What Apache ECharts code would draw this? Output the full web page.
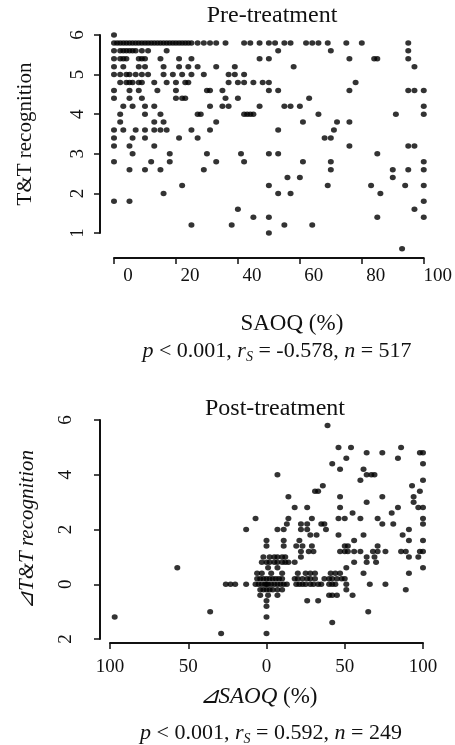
<!DOCTYPE html>
<html>
<head>
<meta charset="utf-8">
<script src="https://cdn.jsdelivr.net/npm/echarts@6/dist/echarts.min.js"></script>
<style>
  html, body { margin: 0; padding: 0; background: #fff; }
  #chart { width: 455px; height: 745px; }
</style>
</head>
<body>
<div id="chart"></div>
<script>
// Pre-treatment: T&T recognition rows and SAOQ (%) values on each row
const preRows = [6, 5.8, 5.6, 5.4, 5.2, 5.0, 4.8, 4.6, 4.4, 4.2, 4.0, 3.8, 3.6, 3.4, 3.2, 3.0, 2.8, 2.6, 2.4, 2.2, 2.0, 1.8, 1.6, 1.4, 1.2, 1.0, 0.6];
const preSAOQ = [
    [0],
    [0, 1, 2, 3, 4, 5, 6, 7, 8, 9, 10, 11, 12, 13, 14, 15, 16, 17, 18, 19, 20, 21, 22, 23, 24, 25, 27, 29, 31, 33, 36, 42, 44, 47, 50, 52, 55, 57, 62, 64, 66, 69, 75, 80, 95],
    [0, 2, 3, 4, 5, 6, 7, 9, 11, 17, 53, 70, 95],
    [0, 2, 3, 4, 8, 9, 10, 15, 21, 25, 47, 50, 76, 84, 85, 95],
    [0, 3, 8, 10, 16, 21, 24, 27, 33, 39, 58, 97],
    [0, 2, 4, 5, 7, 9, 11, 16, 19, 22, 25, 29, 37, 39, 42],
    [2, 4, 5, 6, 8, 9, 13, 17, 20, 23, 24, 37, 40, 42, 45, 48, 50, 78],
    [0, 5, 8, 14, 20, 30, 31, 35, 50, 53, 76, 95, 97, 100],
    [0, 5, 9, 20, 22, 23, 36, 40, 63],
    [3, 6, 10, 13, 31, 35, 37, 47, 55, 57, 60, 100],
    [2, 10, 15, 27, 28, 42, 43, 44, 45, 66, 91, 100],
    [2, 13, 16, 33, 61, 72, 76],
    [0, 3, 7, 10, 13, 15, 17, 25, 31, 53, 71],
    [0, 6, 10, 21, 27, 68, 70],
    [0, 5, 13, 76, 95, 97],
    [6, 18, 30, 41, 50, 53, 85],
    [0, 12, 18, 33, 42, 61, 70, 100],
    [5, 10, 15, 29, 70, 90, 95, 100],
    [56, 60, 90],
    [22, 50, 69, 83, 94, 100],
    [16, 53, 57, 86],
    [0, 5, 100],
    [40, 97],
    [45, 50, 85, 100],
    [25, 38, 55, 64],
    [50],
    [93]
];

// Post-treatment: change in T&T recognition rows and change in SAOQ (%) on each row
const postRows = [5.8, 5.0, 4.8, 4.6, 4.4, 4.2, 4.0, 3.8, 3.6, 3.4, 3.2, 3.0, 2.8, 2.6, 2.4, 2.2, 2.0, 1.8, 1.6, 1.4, 1.2, 1.0, 0.8, 0.6, 0.4, 0.2, 0, -0.2, -0.4, -0.6, -0.8, -1.0, -1.2, -1.4, -1.8];
const postSAOQ = [
    [39],
    [46, 54, 86],
    [64, 74, 98, 100],
    [51, 84],
    [42, 100],
    [47, 62],
    [7, 64, 67, 69],
    [60, 100],
    [36, 93],
    [31, 33, 98],
    [14, 47, 74, 94],
    [64, 94],
    [18, 26, 47, 84, 97, 100],
    [55, 80],
    [-7, 14, 29, 46, 50, 60, 71, 100],
    [13, 22, 26, 35, 37, 74, 81, 100],
    [-13, 7, 11, 22, 26, 38, 91],
    [28, 32, 46, 62, 87],
    [0, 11, 21, 56, 91, 100],
    [0, 11, 19, 23, 29, 50, 52, 71],
    [22, 27, 30, 47, 50, 52, 56, 60, 68, 71, 76, 86, 89, 98, 100],
    [-2, 2, 5, 7, 10, 12, 22, 64, 69, 91, 97],
    [-3, 0, 2, 5, 7, 10, 12, 14, 18, 56, 64, 70],
    [-57, 1, 7, 51, 100],
    [-6, -3, 3, 10, 20, 25, 28, 31, 41, 44, 47, 62, 91],
    [-6, -4, -2, 0, 2, 4, 6, 8, 10, 18, 20, 23, 26, 28, 31, 37, 40, 42, 45, 48, 50],
    [-26, -23, -20, -13, -7, -5, -3, -1, 0, 1, 3, 5, 7, 9, 11, 13, 19, 21, 23, 25, 28, 30, 33, 35, 40, 42, 44, 51, 66, 76],
    [-4, -2, 0, 2, 4, 7, 10, 51, 89],
    [-4, 1, 7, 40, 42, 45, 55],
    [0, 26, 33],
    [0],
    [-36, 65],
    [-97, 0],
    [42],
    [-29, 0]
];

const preTicksX = [0, 100, 20];
const preTicksY = [1, 6, 1];
const postTicksX = [-100, 100, 50];
const postTicksY = [-2, 6, 2];

const toPoints = (rows, xs) => rows.flatMap((y, i) => xs[i].map(x => [x, y]));

const FONT = '"Liberation Serif", "DejaVu Serif", serif';
const INK = '#111';

const axisBase = {
    splitLine: { show: false },
    axisLine: { onZero: false, lineStyle: { color: INK, width: 2 } },
    axisTick: { length: 6, lineStyle: { color: INK, width: 1.5 } },
    axisLabel: { color: INK, fontFamily: FONT, fontSize: 19 },
    nameTextStyle: { color: INK, fontFamily: FONT }
};

const statsRich = {
    i: { fontStyle: 'italic', fontFamily: FONT, fontSize: 22, color: INK },
    sub: { fontStyle: 'italic', fontFamily: FONT, fontSize: 14, color: INK, padding: [11, 0, 0, 0] }
};

const chart = echarts.init(document.getElementById('chart'));
chart.setOption({
    animation: false,
    backgroundColor: '#fff',
    title: [
        { text: 'Pre-treatment', left: 267, top: -1, textAlign: 'center',
          textStyle: { fontFamily: FONT, fontSize: 24, fontWeight: 'normal', color: INK } },
        { text: 'Post-treatment', left: 270, top: 392, textAlign: 'center',
          textStyle: { fontFamily: FONT, fontSize: 24, fontWeight: 'normal', color: INK } },
        { text: '{i|p} < 0.001, {i|r}{sub|S} = -0.578, {i|n} = 517', left: 272, top: 334, textAlign: 'center',
          textStyle: { fontFamily: FONT, fontSize: 22, fontWeight: 'normal', color: INK, rich: statsRich } },
        { text: '{i|p} < 0.001, {i|r}{sub|S} = 0.592, {i|n} = 249', left: 266, top: 716, textAlign: 'center',
          textStyle: { fontFamily: FONT, fontSize: 22, fontWeight: 'normal', color: INK, rich: statsRich } }
    ],
    grid: [
        { left: 114, right: 29, top: 35, bottom: 512 },
        { left: 110, right: 32, top: 420, bottom: 106 }
    ],
    xAxis: [
        { ...axisBase, type: 'value', gridIndex: 0, offset: 25,
          min: preTicksX[0], max: preTicksX[1], interval: preTicksX[2],
          name: 'SAOQ (%)', nameLocation: 'middle', nameGap: 54,
          nameTextStyle: { ...axisBase.nameTextStyle, fontSize: 23, padding: [0, 0, 0, 46] },
          axisLabel: { ...axisBase.axisLabel, margin: 9, padding: [0, 0, 0, 28] } },
        { ...axisBase, type: 'value', gridIndex: 1, offset: 4,
          min: postTicksX[0], max: postTicksX[1], interval: postTicksX[2],
          name: '{i|⊿SAOQ} (%)', nameLocation: 'middle', nameGap: 42,
          nameTextStyle: { ...axisBase.nameTextStyle, fontSize: 23, padding: [0, 16, 0, 0],
              rich: { i: { fontStyle: 'italic', fontFamily: FONT, fontSize: 23, color: INK } } },
          axisLabel: { ...axisBase.axisLabel, margin: 15, formatter: v => String(Math.abs(v)) } }
    ],
    yAxis: [
        { ...axisBase, type: 'value', gridIndex: 0, offset: 14,
          min: preTicksY[0], max: preTicksY[1], interval: preTicksY[2],
          name: 'T&T recognition', nameLocation: 'middle', nameGap: 64, nameRotate: 90,
          nameTextStyle: { ...axisBase.nameTextStyle, fontSize: 21 },
          axisLabel: { ...axisBase.axisLabel, rotate: 90, margin: 12 } },
        { ...axisBase, type: 'value', gridIndex: 1, offset: 10,
          min: postTicksY[0], max: postTicksY[1], interval: postTicksY[2],
          name: '⊿T&T recognition', nameLocation: 'middle', nameGap: 62, nameRotate: 90,
          nameTextStyle: { ...axisBase.nameTextStyle, fontSize: 21, fontStyle: 'italic' },
          axisLabel: { ...axisBase.axisLabel, rotate: 90, margin: 24, formatter: v => String(Math.abs(v)) } }
    ],
    series: [
        { type: 'scatter', xAxisIndex: 0, yAxisIndex: 0, clip: false,
          symbol: 'circle', symbolSize: [6, 5.5], itemStyle: { color: '#000' },
          data: toPoints(preRows, preSAOQ) },
        { type: 'scatter', xAxisIndex: 1, yAxisIndex: 1, clip: false,
          symbol: 'circle', symbolSize: [6, 5.5], itemStyle: { color: '#000' },
          data: toPoints(postRows, postSAOQ) }
    ]
});
</script>
</body>
</html>
